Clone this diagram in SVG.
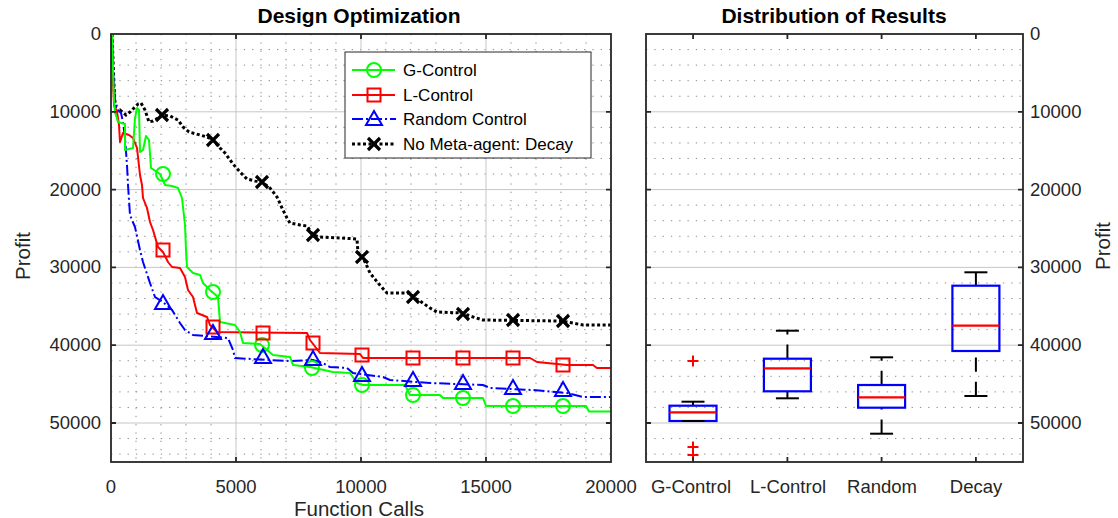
<svg xmlns="http://www.w3.org/2000/svg" width="1118" height="518" viewBox="0 0 1118 518">
<style>
text{font-family:"Liberation Sans",Arial,sans-serif;fill:#262626}
.tk{font-size:18.5px}
.lab{font-size:20.5px}
.ttl{font-size:21px;font-weight:bold;fill:#000}
.leg{font-size:17px;fill:#000}
.maj{stroke:#c6c6c6;stroke-width:1;fill:none}
.min{stroke:#8a8a8a;stroke-width:1;stroke-dasharray:1.3 7;fill:none}
.ax{fill:none;stroke:#262626;stroke-width:1.8}
.tick{stroke:#262626;stroke-width:1.8;fill:none}
.g{stroke:#00ff00;stroke-width:2;fill:none;stroke-linejoin:round}
.r{stroke:#ff0000;stroke-width:2;fill:none;stroke-linejoin:round}
.b{stroke:#0000ff;stroke-width:2;fill:none;stroke-dasharray:11 3 2 3}
.k{stroke:#000;stroke-width:3;fill:none;stroke-dasharray:3 2.5}
.mg{stroke:#00ff00;stroke-width:2;fill:none}
.mr{stroke:#ff0000;stroke-width:2;fill:none}
.mb{stroke:#0000ff;stroke-width:2;fill:none}
.mk{stroke:#000;stroke-width:3.2;fill:none}
.box{stroke:#0000ff;stroke-width:2.2;fill:none}
.med{stroke:#ff0000;stroke-width:2.2}
.wh{stroke:#000;stroke-width:2;stroke-dasharray:14.3 10}
.cap{stroke:#000;stroke-width:2}
.out{stroke:#ff0000;stroke-width:2}
</style>
<defs>
<circle id="mC" r="7" class="mg"/>
<rect id="mS" x="-6.5" y="-6.5" width="13" height="13" class="mr"/>
<path id="mT" d="M0,-8L8,6L-8,6Z" class="mb"/>
<path id="mX" d="M-6,-6L6,6M-6,6L6,-6" class="mk"/>
<path id="mP" d="M-5.5,0H5.5M0,-5.5V5.5" class="out"/>
</defs>
<rect width="1118" height="518" fill="#fff"/>

<g id="left-axes">
<path class="min" d="M136 34V462M161 34V462M186 34V462M211 34V462M261 34V462M286 34V462M311 34V462M336 34V462M386 34V462M411 34V462M436 34V462M461 34V462M511 34V462M536 34V462M561 34V462M586 34V462"/>
<path class="min" d="M111 49.56H611M111 65.12H611M111 80.68H611M111 96.24H611M111 127.36H611M111 142.92H611M111 158.48H611M111 174.04H611M111 205.16H611M111 220.72H611M111 236.28H611M111 251.84H611M111 282.96H611M111 298.52H611M111 314.08H611M111 329.64H611M111 360.76H611M111 376.32H611M111 391.88H611M111 407.44H611M111 438.56H611M111 454.12H611"/>
<path class="maj" d="M236 34V462M361 34V462M486 34V462M111 111.8H611M111 189.6H611M111 267.4H611M111 345.2H611M111 423H611"/>
</g>

<g id="right-axes">
<path class="min" d="M646 49.56H1023M646 65.12H1023M646 80.68H1023M646 96.24H1023M646 127.36H1023M646 142.92H1023M646 158.48H1023M646 174.04H1023M646 205.16H1023M646 220.72H1023M646 236.28H1023M646 251.84H1023M646 282.96H1023M646 298.52H1023M646 314.08H1023M646 329.64H1023M646 360.76H1023M646 376.32H1023M646 391.88H1023M646 407.44H1023M646 438.56H1023M646 454.12H1023"/>
<path class="maj" d="M646 111.8H1023M646 189.6H1023M646 267.4H1023M646 345.2H1023M646 423H1023"/>
</g>

<g id="curves">
<polyline id="curve-decay" class="k" points="112,34 113,60 114,85 115,105 116,112 120,110 126,115 130,112 134,108 138,104 141,103 145,110 149,122 153,121 158,118 162,115 170,116 178,120 183,127 189,132 200,135 207,137 213,140 220,148 225,153 233,164 240,172 247,179 255,181 262,182 270,188 277,197 282,208 287,218 290,223 300,225 307,226 313,235 320,237 340,238 357,239 358,253 362,256 366,264 370,273 378,283 387,293 410,293 413,297 420,301 430,308 437,312 462,313 470,316 483,320 560,321 567,322 583,325 611,325"/>
<polyline id="curve-random" class="b" points="112,34 113,70 115,100 118,110 121,113 123,122 125,138 127,165 128,185 130,215 132,220 135,227 140,250 143,262 150,283 155,297 163,302 172,310 180,323 185,330 193,335 228,338 233,350 235,358 267,360 290,361 313,360 323,363 330,367 347,368 353,373 383,377 390,380 430,383 483,385 490,388 533,390 567,393 583,397 611,397"/>
<polyline id="curve-lcontrol" class="r" points="112,34 113,80 114,105 117,112 119,125 120,142 123,133 129,135 133,138 137,148 140,175 142,185 143,198 147,208 150,222 153,230 158,247 163,252 168,262 172,267 180,268 185,277 188,290 193,297 197,313 207,317 210,325 217,332 307,333 310,340 320,353 360,354 363,358 530,358 537,362 567,365 593,365 597,368 611,368"/>
<polyline id="curve-gcontrol" class="g" points="112,34 113,70 114,100 115,112 118,122 125,124 125,150 133,148 135,118 137,108 139,110 140,152 143,150 146,136 149,140 151,168 160,174 165,185 172,186 178,188 182,198 185,225 186,250 187,267 193,273 200,275 203,283 210,290 218,297 220,322 235,325 240,332 243,343 260,344 267,350 273,355 290,357 293,365 310,367 333,372 350,373 357,383 363,385 405,385 410,395 440,395 443,398 483,398 486,406 586,406 589,411.5 611,411.5"/>
<g id="markers-decay">
<use href="#mX" x="162" y="115"/><use href="#mX" x="213" y="140"/><use href="#mX" x="262" y="182"/><use href="#mX" x="313" y="235"/><use href="#mX" x="362" y="257"/><use href="#mX" x="413" y="297"/><use href="#mX" x="463" y="314"/><use href="#mX" x="513" y="320"/><use href="#mX" x="563" y="321"/>
</g>
<g id="markers-gcontrol">
<use href="#mC" x="163" y="174"/><use href="#mC" x="213" y="292"/><use href="#mC" x="262" y="345"/><use href="#mC" x="312" y="368"/><use href="#mC" x="362" y="385"/><use href="#mC" x="413" y="395"/><use href="#mC" x="463" y="398"/><use href="#mC" x="513" y="406"/><use href="#mC" x="563" y="406"/>
</g>
<g id="markers-lcontrol">
<use href="#mS" x="163" y="250"/><use href="#mS" x="213" y="327"/><use href="#mS" x="263" y="333"/><use href="#mS" x="313" y="343"/><use href="#mS" x="362" y="355"/><use href="#mS" x="413" y="358"/><use href="#mS" x="463" y="358"/><use href="#mS" x="513" y="358"/><use href="#mS" x="563" y="365"/>
</g>
<g id="markers-random">
<use href="#mT" x="163" y="303"/><use href="#mT" x="213" y="333"/><use href="#mT" x="263" y="357"/><use href="#mT" x="313" y="359"/><use href="#mT" x="362" y="375"/><use href="#mT" x="413" y="380"/><use href="#mT" x="463" y="383"/><use href="#mT" x="513" y="388"/><use href="#mT" x="563" y="390"/>
</g>
</g>

<g id="boxplots">
<g id="box-gcontrol">
<line class="wh" x1="693" y1="405.7" x2="693" y2="401.7"/>
<line class="cap" x1="681.5" y1="401.7" x2="704.5" y2="401.7"/>
<rect class="box" x="669.5" y="405.7" width="47" height="15.3"/>
<line class="cap" x1="681.5" y1="421" x2="704.5" y2="421"/>
<line class="med" x1="669.5" y1="412.3" x2="716.5" y2="412.3"/>
<use href="#mP" x="693" y="361"/><use href="#mP" x="693" y="447"/><use href="#mP" x="693" y="455"/>
</g>
<g id="box-lcontrol">
<line class="wh" x1="787.4" y1="358.7" x2="787.4" y2="330.7"/>
<line class="cap" x1="775.9" y1="330.7" x2="798.9" y2="330.7"/>
<line class="wh" x1="787.4" y1="398.3" x2="787.4" y2="391.3"/>
<line class="cap" x1="775.9" y1="398.3" x2="798.9" y2="398.3"/>
<rect class="box" x="763.9" y="358.7" width="47" height="32.6"/>
<line class="med" x1="763.9" y1="368.3" x2="810.9" y2="368.3"/>
</g>
<g id="box-random">
<line class="wh" x1="881.6" y1="385" x2="881.6" y2="357.3"/>
<line class="cap" x1="870.1" y1="357.3" x2="893.1" y2="357.3"/>
<line class="wh" x1="881.6" y1="433.7" x2="881.6" y2="407.7"/>
<line class="cap" x1="870.1" y1="433.7" x2="893.1" y2="433.7"/>
<rect class="box" x="858.1" y="385" width="47" height="22.7"/>
<line class="med" x1="858.1" y1="397.3" x2="905.1" y2="397.3"/>
</g>
<g id="box-decay">
<line class="wh" x1="975.9" y1="285.7" x2="975.9" y2="272.3"/>
<line class="cap" x1="964.4" y1="272.3" x2="987.4" y2="272.3"/>
<line class="wh" x1="975.9" y1="396" x2="975.9" y2="351"/>
<line class="cap" x1="964.4" y1="396" x2="987.4" y2="396"/>
<rect class="box" x="952.4" y="285.7" width="47" height="65.3"/>
<line class="med" x1="952.4" y1="325.7" x2="999.4" y2="325.7"/>
</g>
</g>

<g id="frames">
<rect class="ax" x="111" y="34" width="500" height="428"/>
<path class="tick" d="M111 111.8h5M111 189.6h5M111 267.4h5M111 345.2h5M111 423h5M611 111.8h-5M611 189.6h-5M611 267.4h-5M611 345.2h-5M611 423h-5M236 462v-5M361 462v-5M486 462v-5M236 34v5M361 34v5M486 34v5"/>
<rect class="ax" x="646" y="34" width="377" height="428"/>
<path class="tick" d="M646 111.8h5M646 189.6h5M646 267.4h5M646 345.2h5M646 423h5M1023 111.8h-5M1023 189.6h-5M1023 267.4h-5M1023 345.2h-5M1023 423h-5M693.1 462v-5M787.4 462v-5M881.6 462v-5M975.9 462v-5M693.1 34v5M787.4 34v5M881.6 34v5M975.9 34v5"/>
</g>

<g id="legend">
<rect x="345" y="52" width="246" height="106" fill="#fff" stroke="#262626" stroke-width="1"/>
<line class="g" x1="352" y1="70" x2="395" y2="70"/><use href="#mC" x="374" y="70"/>
<text class="leg" x="403" y="76">G-Control</text>
<line class="r" x1="352" y1="95" x2="395" y2="95"/><use href="#mS" x="374" y="95"/>
<text class="leg" x="403" y="101">L-Control</text>
<line class="b" x1="352" y1="119" x2="396" y2="119"/><use href="#mT" x="374" y="119"/>
<text class="leg" x="403" y="125">Random Control</text>
<line class="k" x1="352" y1="144" x2="396" y2="144"/><use href="#mX" x="374" y="144"/>
<text class="leg" x="403" y="150">No Meta-agent: Decay</text>
</g>

<g id="labels">
<text class="ttl" x="359" y="23" text-anchor="middle">Design Optimization</text>
<text class="ttl" x="834" y="23" text-anchor="middle">Distribution of Results</text>
<g text-anchor="end">
<text class="tk" x="101" y="40">0</text>
<text class="tk" x="101" y="117.8">10000</text>
<text class="tk" x="101" y="195.6">20000</text>
<text class="tk" x="101" y="273.4">30000</text>
<text class="tk" x="101" y="351.2">40000</text>
<text class="tk" x="101" y="429">50000</text>
</g>
<g>
<text class="tk" x="1030" y="40">0</text>
<text class="tk" x="1030" y="117.8">10000</text>
<text class="tk" x="1030" y="195.6">20000</text>
<text class="tk" x="1030" y="273.4">30000</text>
<text class="tk" x="1030" y="351.2">40000</text>
<text class="tk" x="1030" y="429">50000</text>
</g>
<g text-anchor="middle">
<text class="tk" x="111" y="493">0</text>
<text class="tk" x="236" y="493">5000</text>
<text class="tk" x="361" y="493">10000</text>
<text class="tk" x="486" y="493">15000</text>
<text class="tk" x="611" y="493">20000</text>
<text class="tk" x="691" y="493">G-Control</text>
<text class="tk" x="788" y="493">L-Control</text>
<text class="tk" x="882" y="493">Random</text>
<text class="tk" x="976" y="493">Decay</text>
<text class="lab" x="359" y="515.5">Function Calls</text>
<text class="lab" transform="translate(30,256) rotate(-90)">Profit</text>
<text class="lab" transform="translate(1110,246) rotate(-90)">Profit</text>
</g>
</g>
</svg>
